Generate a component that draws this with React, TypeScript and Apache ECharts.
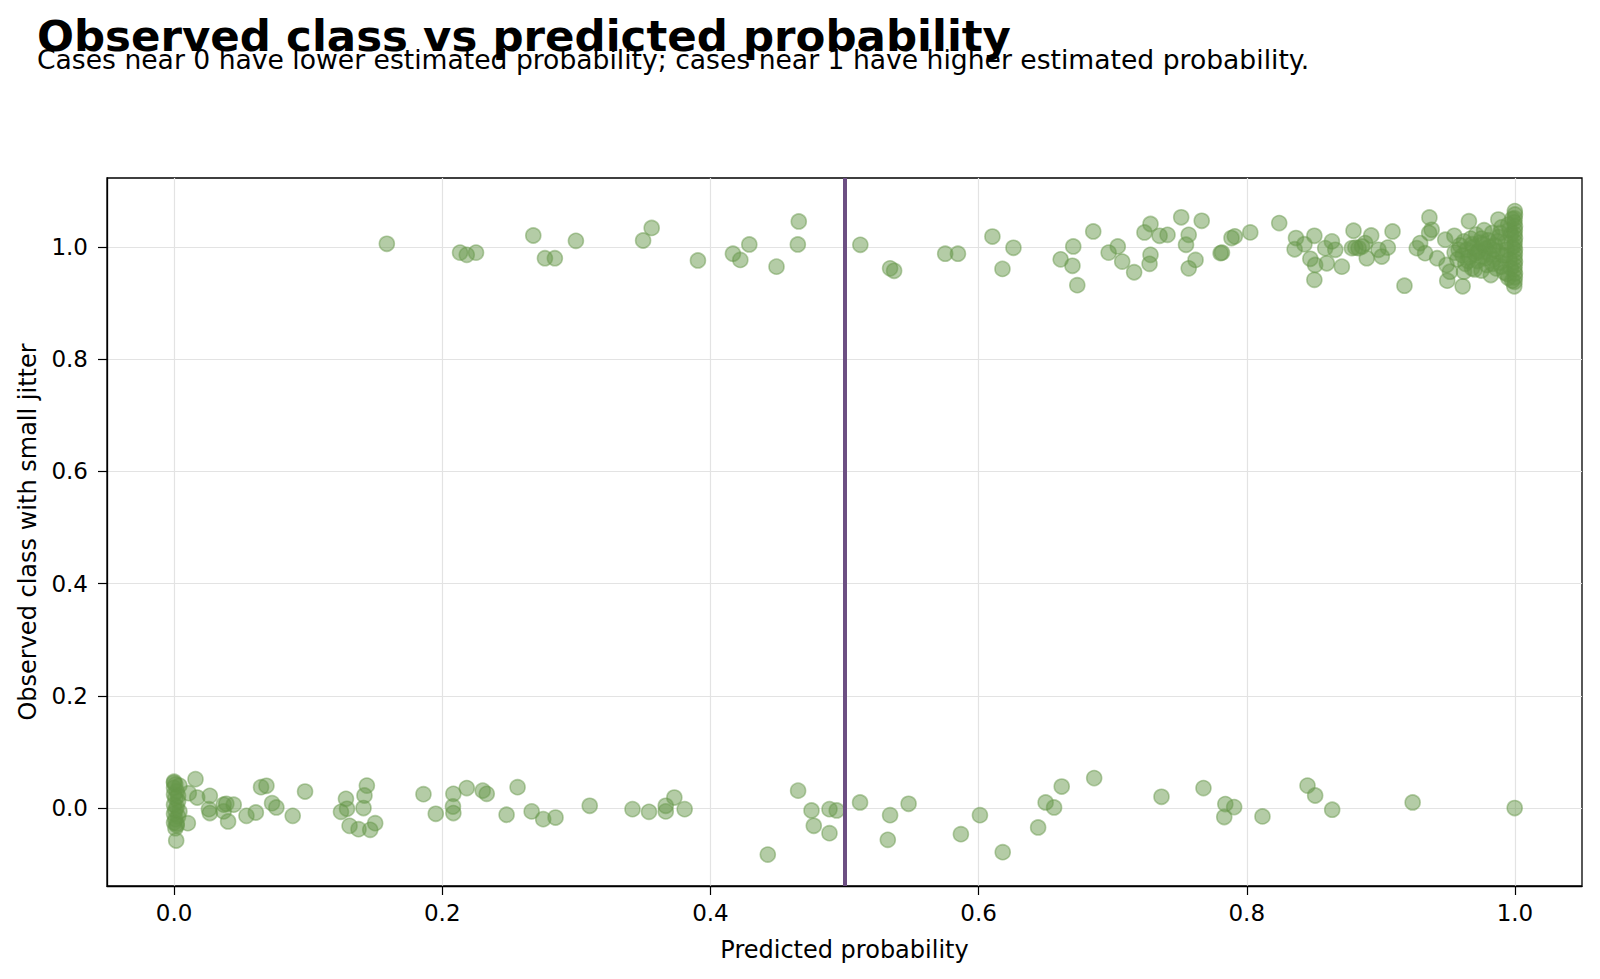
import React, { useEffect, useRef } from "react";
import * as echarts from "echarts";

const titleText = "Observed class vs predicted probability";
const subtitleText =
  "Cases near 0 have lower estimated probability; cases near 1 have higher estimated probability.";
const xAxisName = "Predicted probability";
const yAxisName = "Observed class with small jitter";

const xTicks = [0, 0.2, 0.4, 0.6, 0.8, 1.0];
const yTicks = [0, 0.2, 0.4, 0.6, 0.8, 1.0];
const threshold = 0.5;

// Observed class 1 (jittered around 1.0): [predicted probability, jittered class]
const class1Points: number[][] = [
  [0.1587, 1.0057], [0.2133, 0.99], [0.2183, 0.986], [0.2252, 0.99], [0.2679, 1.0205],
  [0.2766, 0.98], [0.284, 0.98], [0.2997, 1.011], [0.3498, 1.0116], [0.3562, 1.034],
  [0.3907, 0.976], [0.4168, 0.988], [0.4223, 0.977], [0.429, 1.0045], [0.4493, 0.965],
  [0.4652, 1.0045], [0.4659, 1.0455], [0.5118, 1.0039], [0.534, 0.962], [0.537, 0.9576],
  [0.5751, 0.988], [0.5846, 0.988], [0.6103, 1.0187], [0.626, 0.9986], [0.6178, 0.961],
  [0.6612, 0.978], [0.6706, 1.001], [0.67, 0.9665], [0.6736, 0.932], [0.6855, 1.0277],
  [0.697, 0.99], [0.7038, 1.001], [0.7071, 0.974], [0.716, 0.955], [0.7237, 1.0259],
  [0.7282, 1.041], [0.7282, 0.986], [0.7275, 0.97], [0.735, 1.02], [0.7409, 1.0217],
  [0.7511, 1.053], [0.7567, 1.0217], [0.7547, 1.004], [0.7618, 0.977], [0.7567, 0.962],
  [0.7664, 1.0467], [0.7805, 0.989], [0.7815, 0.99], [0.7886, 1.016], [0.7911, 1.019],
  [0.8026, 1.026], [0.8242, 1.0426], [0.8357, 0.996], [0.8367, 1.016], [0.843, 1.005],
  [0.8504, 1.02], [0.8474, 0.979], [0.851, 0.968], [0.8504, 0.9415], [0.8585, 0.998],
  [0.8635, 1.01], [0.866, 0.995], [0.8597, 0.971], [0.8709, 0.965], [0.8796, 1.029],
  [0.8784, 0.998], [0.881, 0.999], [0.8834, 0.998], [0.886, 1.001], [0.8883, 1.007],
  [0.8928, 1.0205], [0.8895, 0.98], [0.8982, 0.995], [0.9007, 0.983], [0.9052, 0.999],
  [0.9087, 1.0277], [0.9176, 0.931], [0.9268, 0.998], [0.9293, 1.007], [0.933, 0.989],
  [0.936, 1.025], [0.9362, 1.0526], [0.9379, 1.0307], [0.942, 0.98], [0.948, 1.013],
  [0.949, 0.968], [0.9515, 0.956], [0.9495, 0.94], [0.9548, 1.02], [0.958, 0.995],
  [0.961, 0.93], [0.962, 0.956], [0.9657, 1.046], [0.9876, 1.049],
  [0.955, 0.99], [0.957, 0.978], [0.959, 1.003], [0.961, 0.985], [0.962, 1.01],
  [0.963, 0.97], [0.964, 0.995], [0.966, 0.982], [0.967, 1.015], [0.968, 0.962],
  [0.969, 1.0], [0.97, 0.988], [0.971, 1.022], [0.972, 0.975], [0.973, 0.993],
  [0.974, 1.008], [0.975, 0.958], [0.976, 0.983], [0.977, 1.03], [0.978, 0.997],
  [0.979, 0.968], [0.98, 1.012], [0.981, 0.987], [0.982, 0.95], [0.983, 1.025],
  [0.984, 0.978], [0.985, 1.003], [0.986, 0.962], [0.987, 0.992], [0.988, 1.018],
  [0.989, 0.972], [0.99, 1.035], [0.991, 0.985], [0.992, 0.955], [0.993, 1.008],
  [0.994, 0.995], [0.995, 0.945], [0.995, 1.04], [0.996, 0.978], [0.997, 1.022],
  [0.997, 0.962], [0.998, 1.0], [0.998, 0.94], [0.998, 1.05], [0.968, 1.005],
  [0.972, 0.99], [0.975, 1.015], [0.978, 0.98], [0.981, 1.0], [0.984, 0.995],
  [0.987, 1.01], [0.99, 0.965], [0.993, 0.985], [0.996, 1.03], [0.965, 0.975],
  [0.97, 0.96], [0.976, 1.005], [0.983, 0.97], [0.989, 1.025], [0.994, 0.952],
  [0.9995, 0.93], [0.9997, 0.938], [0.9999, 0.946], [1.0, 0.953], [0.9996, 0.96],
  [0.9998, 0.967], [1.0, 0.974], [0.9997, 0.981], [0.9999, 0.988], [1.0, 0.995],
  [0.9996, 1.002], [0.9998, 1.009], [1.0, 1.016], [0.9997, 1.023], [0.9999, 1.03],
  [1.0, 1.037], [0.9996, 1.044], [0.9998, 1.051], [1.0, 1.058], [0.9999, 1.064],
];

// Observed class 0 (jittered around 0.0)
const class0Points: number[][] = [
  [0.0, 0.047], [0.001, 0.042], [0.0, 0.036], [0.002, 0.03], [0.0, 0.024],
  [0.001, 0.018], [0.003, 0.012], [0.0, 0.006], [0.002, 0.002], [0.001, -0.004],
  [0.0, -0.01], [0.003, -0.015], [0.001, -0.02], [0.0, -0.026], [0.002, -0.031],
  [0.001, -0.036], [0.0016, -0.058], [0.004, 0.04], [0.003, 0.022], [0.004, -0.006],
  [0.0, 0.045], [0.002, -0.028],
  [0.016, 0.0515], [0.011, 0.0265], [0.0173, 0.0187], [0.0103, -0.027], [0.0267, 0.0217],
  [0.026, -0.002], [0.0267, -0.009], [0.037, 0.006], [0.039, 0.0075], [0.0445, 0.006],
  [0.037, -0.006], [0.0403, -0.024], [0.054, -0.014], [0.061, -0.008], [0.0649, 0.0372],
  [0.0689, 0.0396], [0.0731, 0.0087], [0.0763, 0.001], [0.0885, -0.014], [0.0977, 0.0294],
  [0.1245, -0.0068], [0.1282, 0.0164], [0.129, -0.0014], [0.1309, -0.0318], [0.1376, -0.0377],
  [0.1413, 0.0], [0.142, 0.0223], [0.1438, 0.04], [0.1463, -0.0389], [0.15, -0.027],
  [0.186, 0.0247], [0.1952, -0.0103], [0.2083, 0.0253], [0.208, 0.0027], [0.2083, -0.009],
  [0.2183, 0.0355], [0.2302, 0.031], [0.2332, 0.0253], [0.248, -0.012], [0.2562, 0.0372],
  [0.2667, -0.006], [0.2753, -0.0198], [0.2845, -0.017], [0.31, 0.004], [0.3419, -0.002],
  [0.3542, -0.0068], [0.3667, 0.004], [0.3667, -0.006], [0.3731, 0.0187], [0.3808, -0.002],
  [0.4428, -0.083], [0.4654, 0.031], [0.4754, -0.0044], [0.4771, -0.0317], [0.4888, -0.002],
  [0.4942, -0.0044], [0.4888, -0.0448], [0.5116, 0.0099], [0.534, -0.0127], [0.5323, -0.0567],
  [0.5478, 0.0075], [0.5868, -0.0466], [0.601, -0.0127], [0.618, -0.0787], [0.6444, -0.0347],
  [0.65, 0.0099], [0.6563, 0.001], [0.662, 0.0383], [0.6862, 0.0533], [0.7364, 0.02],
  [0.7677, 0.0355], [0.784, 0.007], [0.7906, 0.0016], [0.7832, -0.016], [0.8117, -0.015],
  [0.8453, 0.04], [0.851, 0.0223], [0.8637, -0.003], [0.9237, 0.0099], [0.9998, 0.0],
];

const FONT = "DejaVu Sans";
const pointFill = "rgba(104,152,74,0.62)";
const pointEdge = "rgba(104,152,74,0.62)";

const fmt = (v: number) => {
  const k = v / 0.2;
  return Math.abs(k - Math.round(k)) < 1e-6 ? v.toFixed(1) : "";
};

export default function App() {
  const ref = useRef<HTMLDivElement>(null);
  useEffect(() => {
    if (!ref.current) return;
    const chart = echarts.init(ref.current, null, { renderer: "svg" });
    const axisCommon = {
      axisLine: { show: true, onZero: false, lineStyle: { color: "#000", width: 1.3 } },
      axisTick: { show: true, length: 9, lineStyle: { color: "#000", width: 1.2 } },
      splitLine: { show: true, lineStyle: { color: "#e3e3e3", width: 1.2 } },
      nameTextStyle: { fontFamily: FONT, fontSize: 24, color: "#000" },
    };
    const labelCommon = {
      formatter: fmt,
      fontFamily: FONT,
      fontSize: 23,
      color: "#000",
    };
    chart.setOption({
      animation: false,
      backgroundColor: "#fff",
      graphic: [
        {
          type: "text",
          left: 37,
          top: 14,
          style: { text: titleText, font: `bold 43.5px '${FONT}'`, fill: "#000" },
        },
        {
          type: "text",
          left: 37,
          top: 46,
          style: { text: subtitleText, font: `26.6px '${FONT}'`, fill: "#000" },
        },
      ],
      grid: {
        left: 107,
        right: 18,
        top: 178,
        bottom: 93,
        show: true,
        borderColor: "#000",
        borderWidth: 1.3,
        containLabel: false,
      },
      xAxis: {
        type: "value",
        min: -0.05,
        max: 1.05,
        splitNumber: 5,
        minInterval: 0.2,
        maxInterval: 0.2,
        name: xAxisName,
        nameLocation: "middle",
        nameGap: 52,
        ...axisCommon,
        axisTick: { ...axisCommon.axisTick, customValues: xTicks },
        axisLabel: { ...labelCommon, customValues: xTicks, margin: 15 },
      },
      yAxis: {
        type: "value",
        min: -0.139,
        max: 1.123,
        splitNumber: 6,
        minInterval: 0.2,
        maxInterval: 0.2,
        name: yAxisName,
        nameLocation: "middle",
        nameGap: 67,
        ...axisCommon,
        axisTick: { ...axisCommon.axisTick, customValues: yTicks },
        axisLabel: { ...labelCommon, customValues: yTicks, margin: 19 },
      },
      series: [
        {
          type: "scatter",
          data: class0Points,
          symbolSize: 15,
          itemStyle: { color: pointFill, borderColor: pointEdge, borderWidth: 1.6 },
          z: 2,
        },
        {
          type: "scatter",
          data: class1Points,
          symbolSize: 15,
          itemStyle: { color: pointFill, borderColor: pointEdge, borderWidth: 1.6 },
          z: 2,
          markLine: {
            silent: true,
            symbol: "none",
            label: { show: false },
            lineStyle: { color: "#6c4f82", width: 4, type: "solid" },
            data: [{ xAxis: threshold }],
            z: 5,
          },
        },
      ],
    });
    return () => chart.dispose();
  }, []);
  return (
    <div
      ref={ref}
      style={{ position: "fixed", left: 0, top: 0, width: 1600, height: 979 }}
    />
  );
}
